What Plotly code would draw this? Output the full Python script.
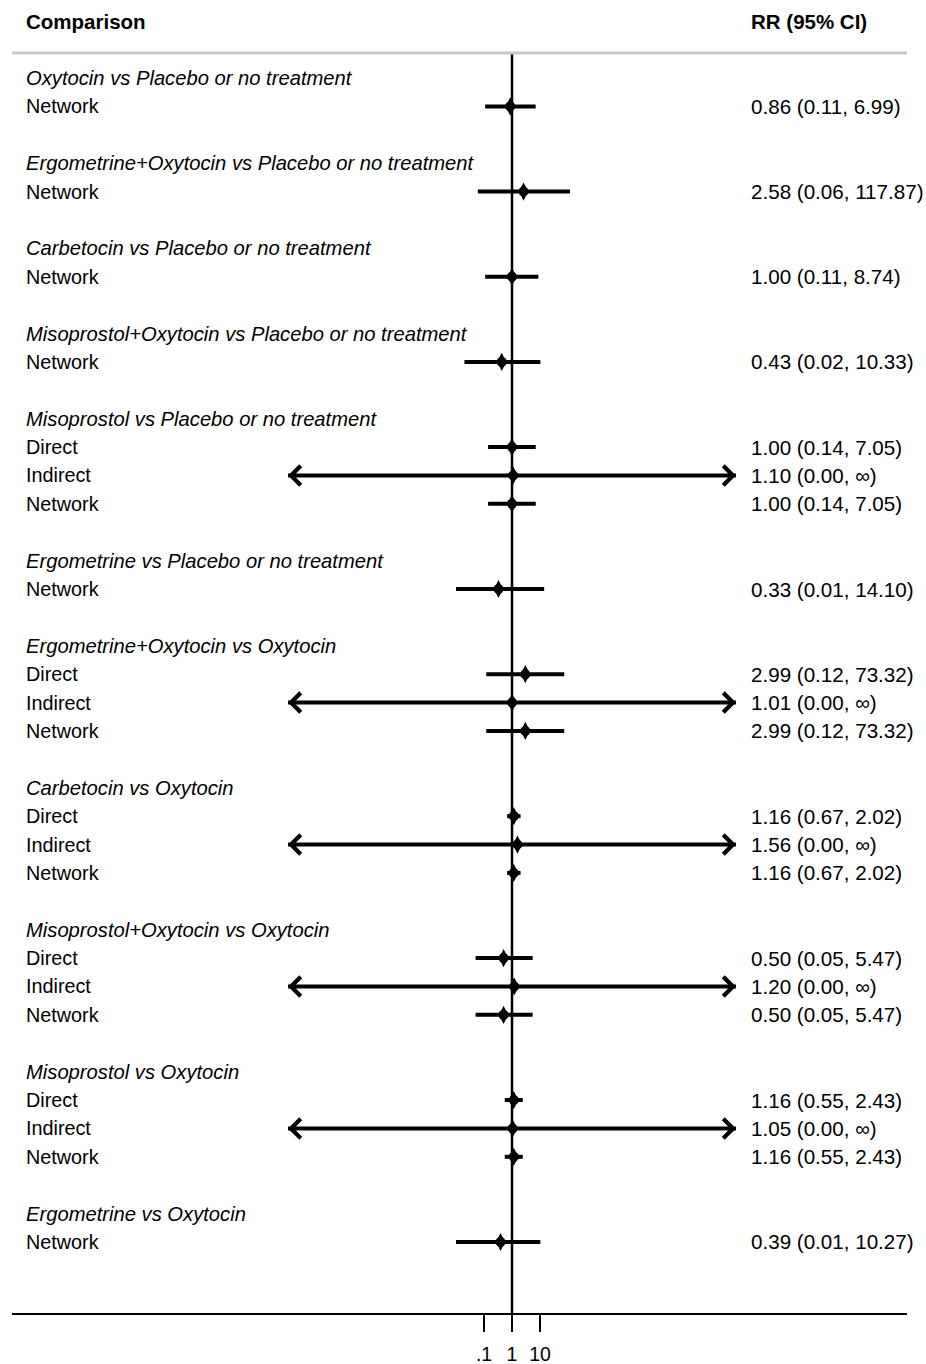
import math
import plotly.graph_objects as go

INF = float("inf")

# ---------------- data ----------------
group_titles = [
    "Oxytocin vs Placebo or no treatment",
    "Ergometrine+Oxytocin vs Placebo or no treatment",
    "Carbetocin vs Placebo or no treatment",
    "Misoprostol+Oxytocin vs Placebo or no treatment",
    "Misoprostol vs Placebo or no treatment",
    "Ergometrine vs Placebo or no treatment",
    "Ergometrine+Oxytocin vs Oxytocin",
    "Carbetocin vs Oxytocin",
    "Misoprostol+Oxytocin vs Oxytocin",
    "Misoprostol vs Oxytocin",
    "Ergometrine vs Oxytocin",
]
row_kinds = [
    ["Network"],
    ["Network"],
    ["Network"],
    ["Network"],
    ["Direct", "Indirect", "Network"],
    ["Network"],
    ["Direct", "Indirect", "Network"],
    ["Direct", "Indirect", "Network"],
    ["Direct", "Indirect", "Network"],
    ["Direct", "Indirect", "Network"],
    ["Network"],
]
rr_est = [
    [0.86], [2.58], [1.00], [0.43],
    [1.00, 1.10, 1.00],
    [0.33],
    [2.99, 1.01, 2.99],
    [1.16, 1.56, 1.16],
    [0.50, 1.20, 0.50],
    [1.16, 1.05, 1.16],
    [0.39],
]
ci_low = [
    [0.11], [0.06], [0.11], [0.02],
    [0.14, 0.00, 0.14],
    [0.01],
    [0.12, 0.00, 0.12],
    [0.67, 0.00, 0.67],
    [0.05, 0.00, 0.05],
    [0.55, 0.00, 0.55],
    [0.01],
]
ci_high = [
    [6.99], [117.87], [8.74], [10.33],
    [7.05, INF, 7.05],
    [14.10],
    [73.32, INF, 73.32],
    [2.02, INF, 2.02],
    [5.47, INF, 5.47],
    [2.43, INF, 2.43],
    [10.27],
]
tick_values = [0.1, 1, 10]
tick_labels = [".1", "1", "10"]
header_left = "Comparison"
header_right = "RR (95% CI)"

# ---------------- layout constants ----------------
W, H = 926, 1364
ML, MR, MT, MB = 12, 19, 53, 51
PW, PH = W - ML - MR, H - MT - MB
PX_PER_DECADE = 28.0
X_ONE_PX = 512           # pixel of RR = 1
ROW_PX = 28.39           # pixel height of one row
ROW0_PX = 78             # pixel of first row centre
CLIP_LO, CLIP_HI = 1e-8, 1e8   # drawn extent of infinite intervals

x_range = [-(X_ONE_PX - ML) / PX_PER_DECADE, (ML + PW - X_ONE_PX) / PX_PER_DECADE]
y_top = -(ROW0_PX - MT) / ROW_PX
y_bot = (MT + PH - ROW0_PX) / ROW_PX

FONT = "Liberation Sans, Arial, sans-serif"
FS_TITLE = 20.2
FS_LABEL = 19.8
FS_VALUE = 20.6
FS_HEAD = 20.5
FS_TICK = 19.5
LABEL_X = (24 - ML) / PW
VALUE_X = (749 - ML) / PW


def txt(x, y, text, size, xref="paper", yref="y"):
    return dict(x=x, y=y, xref=xref, yref=yref, text=text, showarrow=False,
                xanchor="left", yanchor="middle",
                font=dict(family=FONT, size=size, color="black"))


# ---------------- build rows ----------------
annotations = []
ci_x, ci_y = [], []
pt_x, pt_y = [], []
arrows = []
r = 0
for g, title in enumerate(group_titles):
    annotations.append(txt(LABEL_X, r, f"<i>{title}</i>", FS_TITLE))
    r += 1
    for k, kind in enumerate(row_kinds[g]):
        est, lo, hi = rr_est[g][k], ci_low[g][k], ci_high[g][k]
        annotations.append(txt(LABEL_X, r, kind, FS_LABEL))
        hi_txt = "∞" if math.isinf(hi) else f"{hi:.2f}"
        annotations.append(txt(VALUE_X, r, f"{est:.2f} ({lo:.2f}, {hi_txt})", FS_VALUE))
        dlo, dhi = max(lo, CLIP_LO), min(hi, CLIP_HI)
        ci_x += [dlo, dhi, None]
        ci_y += [r, r, None]
        pt_x.append(est)
        pt_y.append(r)
        if lo <= 0:
            arrows.append((est, CLIP_LO, r))
        if math.isinf(hi):
            arrows.append((est, CLIP_HI, r))
        r += 1
    r += 1

for est, end, row in arrows:
    annotations.append(dict(x=math.log10(end), y=row, xref="x", yref="y",
                            ax=math.log10(est), ay=row, axref="x", ayref="y",
                            text="", showarrow=True, arrowhead=4, arrowwidth=3,
                            arrowsize=1.25, arrowcolor="black", standoff=0))

# headers
head_y = 1 + (MT - 21) / PH
annotations.append(txt(LABEL_X, head_y, f"<b>{header_left}</b>", FS_HEAD, yref="paper"))
annotations.append(txt(VALUE_X, head_y, f"<b>{header_right}</b>", FS_HEAD, yref="paper"))

fig = go.Figure()
# reference line at RR = 1
fig.add_trace(go.Scatter(x=[1, 1], y=[y_top, y_bot], mode="lines",
                         line=dict(color="black", width=2.5), hoverinfo="skip",
                         showlegend=False, cliponaxis=False))
fig.add_trace(go.Scatter(x=ci_x, y=ci_y, mode="lines",
                         line=dict(color="black", width=4), showlegend=False))
# point estimates: tall rounded diamond built from overlapping symbols
fig.add_trace(go.Scatter(x=pt_x, y=pt_y, mode="markers",
                         marker=dict(symbol="diamond-tall", size=13, color="black",
                                     line=dict(width=0)),
                         showlegend=False))
fig.add_trace(go.Scatter(x=pt_x, y=pt_y, mode="markers",
                         marker=dict(symbol="circle", size=10, color="black",
                                     line=dict(width=0)),
                         showlegend=False))

fig.update_layout(
    width=W, height=H,
    margin=dict(l=ML, r=MR, t=MT, b=MB, pad=0, autoexpand=False),
    paper_bgcolor="white", plot_bgcolor="white",
    showlegend=False,
    annotations=annotations,
    shapes=[dict(type="line", xref="paper", yref="paper", x0=0, x1=1, y0=1, y1=1,
                 line=dict(color="#c8c8c8", width=3))],
    xaxis=dict(type="log", range=x_range, tickvals=tick_values, ticktext=tick_labels,
               ticks="outside", ticklen=17, tickwidth=2, tickcolor="black",
               ticklabelstandoff=6, automargin=False,
               showline=True, linewidth=2, linecolor="black", showgrid=False,
               zeroline=False, tickfont=dict(family=FONT, size=FS_TICK, color="black")),
    yaxis=dict(range=[y_bot, y_top], visible=False, showgrid=False, zeroline=False,
               automargin=False),
)

fig.write_html(
    "out.html",
    config={"displayModeBar": False, "staticPlot": True},
    post_script="document.body.style.margin='0';document.body.style.padding='0';"
                "document.documentElement.style.overflow='hidden';",
)
